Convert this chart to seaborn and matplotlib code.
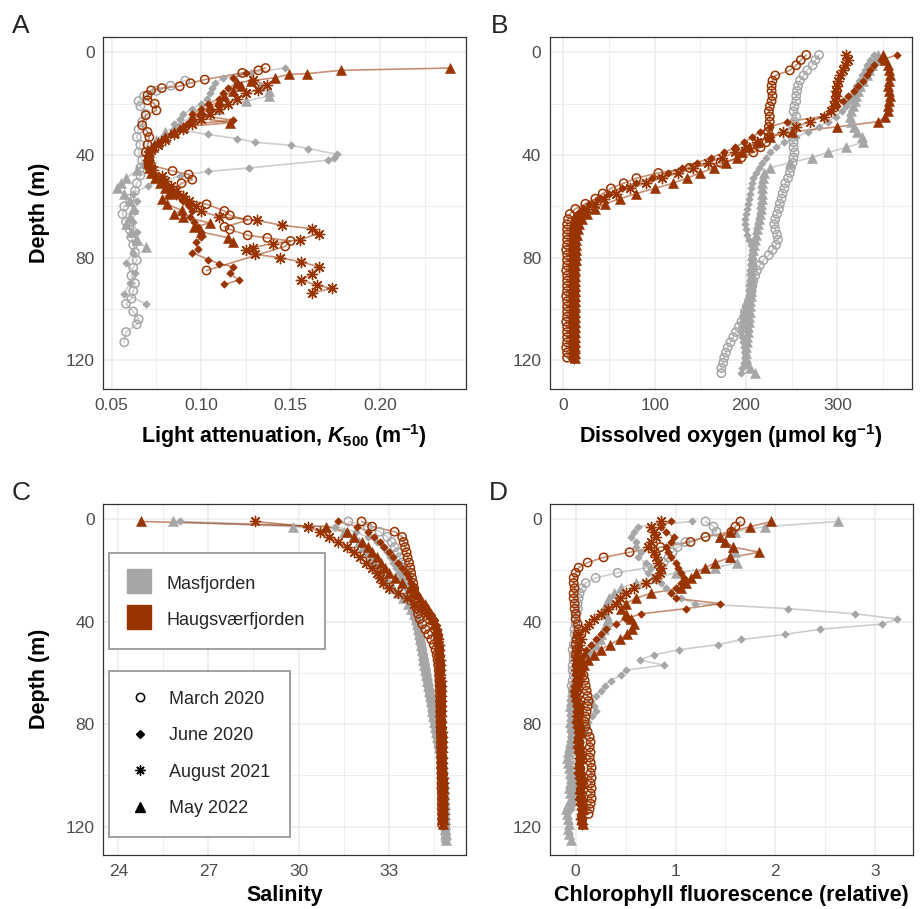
import matplotlib
matplotlib.use("Agg")
import matplotlib.pyplot as plt
from matplotlib.lines import Line2D
import pandas as pd
import seaborn as sns

# ---- depth bins of the CTD profiles (m)
dep_hau = [1, 3, 5, 7, 9, 11, 13, 15, 17, 19,
           21, 23, 25, 27, 29, 31, 33, 35, 37, 39,
           41, 43, 45, 47, 49, 51, 53, 55, 57, 59,
           61, 63, 65, 67, 69, 71, 73, 75, 77, 79,
           81, 83, 85, 87, 89, 91, 93, 95, 97, 99,
           101, 103, 105, 107, 109, 111, 113, 115, 117, 119]
dep_mas = dep_hau + [121, 123, 125]

# ---- A: light attenuation K500 (m-1)
a_mas_mar_d = [11, 13, 15, 17, 19, 21, 24, 27, 30, 33, 36, 39, 42, 45, 48, 51, 54, 57, 60, 63,
               66, 69, 72, 75, 78, 81, 84, 87, 90, 93, 96, 98, 101, 104, 106, 109, 113]
a_mas_mar = [0.091, 0.083, 0.075, 0.068, 0.065, 0.066, 0.069, 0.067, 0.065, 0.064, 0.066, 0.065,
             0.067, 0.066, 0.066, 0.064, 0.063, 0.060, 0.057, 0.056, 0.058, 0.060, 0.061, 0.062,
             0.063, 0.064, 0.062, 0.061, 0.063, 0.062, 0.061, 0.058, 0.062, 0.065, 0.064, 0.058, 0.057]
a_mas_jun_d = [6, 8, 10, 12, 14, 16, 18, 20, 22, 24, 26, 28, 30, 32, 33.6, 35, 36.2, 37.5, 39.7, 41,
               42, 45, 46.4, 48, 50, 52, 55, 58, 62, 66, 70, 74, 78, 82, 86, 90, 94, 98]
a_mas_jun = [0.147, 0.128, 0.112, 0.108, 0.106, 0.105, 0.103, 0.100, 0.095, 0.090, 0.088, 0.085,
             0.085, 0.104, 0.120, 0.130, 0.150, 0.160, 0.176, 0.174, 0.171, 0.127, 0.104, 0.088,
             0.080, 0.070, 0.062, 0.064, 0.063, 0.062, 0.064, 0.063, 0.062, 0.058, 0.063, 0.060,
             0.057, 0.069]
a_mas_may_d = [13, 15, 17, 19, 22, 25, 28, 31, 34, 37, 40, 43, 46, 49, 51, 53, 55, 58, 61, 64,
               67, 70, 73, 76]
a_mas_may = [0.133, 0.138, 0.138, 0.125, 0.110, 0.095, 0.088, 0.080, 0.075, 0.072, 0.070, 0.068,
             0.064, 0.058, 0.055, 0.053, 0.057, 0.060, 0.062, 0.060, 0.058, 0.061, 0.064, 0.069]
a_hau_mar_d = [6.1, 7, 8, 10.6, 12, 13.2, 13.9, 14.8, 16.7, 18.7, 20, 22.6, 24.5, 28.4, 31, 33, 36,
               39, 42, 44, 46.2, 47.6, 49.6, 51, 54, 57, 59.2, 61.8, 63.5, 65.4, 68, 69, 71.3, 72.3,
               73.5, 75.6, 85]
a_hau_mar = [0.136, 0.132, 0.123, 0.102, 0.094, 0.088, 0.078, 0.072, 0.070, 0.070, 0.074, 0.075,
             0.069, 0.067, 0.070, 0.071, 0.070, 0.069, 0.071, 0.072, 0.084, 0.093, 0.095, 0.089,
             0.085, 0.090, 0.103, 0.113, 0.116, 0.126, 0.113, 0.116, 0.126, 0.137, 0.150, 0.147,
             0.103]
a_hau_jun_d = [8, 10, 12, 14, 16, 18, 20, 22, 24, 26.5, 28, 30, 32, 34, 36, 38, 40, 42, 44, 46, 48,
               50, 52, 54, 56, 58, 60, 62, 64, 66, 68, 70, 72, 74, 76.5, 78, 80.8, 82.3, 83.6, 86,
               88.8, 90.4]
a_hau_jun = [0.125, 0.118, 0.120, 0.115, 0.112, 0.110, 0.104, 0.100, 0.095, 0.118, 0.092, 0.088,
             0.083, 0.078, 0.074, 0.071, 0.070, 0.070, 0.071, 0.072, 0.075, 0.078, 0.080, 0.083,
             0.086, 0.090, 0.093, 0.095, 0.094, 0.096, 0.098, 0.100, 0.100, 0.097, 0.098, 0.095,
             0.104, 0.110, 0.118, 0.116, 0.121, 0.113]
a_hau_aug_d = [10.9, 12.9, 14.5, 16, 18, 20, 22, 24, 26, 28, 30, 32, 34, 36, 38, 40, 42, 44, 46, 48,
               50, 52, 54, 56, 58, 60, 62, 64, 65.4, 67.4, 68.7, 70.6, 73, 74.5, 76.1, 77.1, 78.7,
               80, 81.7, 83.6, 86.2, 88.8, 90.8, 92, 93.8]
a_hau_aug = [0.129, 0.137, 0.132, 0.125, 0.120, 0.115, 0.110, 0.105, 0.100, 0.095, 0.090, 0.085,
             0.080, 0.076, 0.072, 0.070, 0.070, 0.071, 0.073, 0.078, 0.080, 0.083, 0.086, 0.090,
             0.093, 0.097, 0.100, 0.110, 0.131, 0.145, 0.162, 0.166, 0.155, 0.140, 0.129, 0.125,
             0.130, 0.144, 0.156, 0.166, 0.162, 0.156, 0.165, 0.173, 0.162]
a_hau_may_d = [6.1, 7, 8.3, 8.6, 9.9, 11, 12, 13, 15, 17, 19, 21, 23, 25, 27.4, 29, 31, 33, 35, 37,
               39, 41, 43, 45, 47, 49, 51, 53, 55, 57, 59.2, 61.5, 63, 64, 66.5, 68, 70, 72.2, 74]
a_hau_may = [0.239, 0.178, 0.159, 0.149, 0.141, 0.128, 0.120, 0.122, 0.118, 0.113, 0.110, 0.105,
             0.100, 0.095, 0.116, 0.090, 0.085, 0.080, 0.076, 0.073, 0.071, 0.070, 0.070, 0.071,
             0.072, 0.074, 0.077, 0.080, 0.082, 0.078, 0.081, 0.089, 0.085, 0.090, 0.105, 0.096,
             0.100, 0.115, 0.118]

# ---- B: dissolved oxygen (umol kg-1)
b_mas_mar = [280, 276, 273, 267, 263, 259, 257, 256, 255, 255,
             253, 252, 255, 253, 252, 250, 251, 252, 252, 253,
             252, 251, 249, 248, 246, 243, 242, 240, 239, 237,
             236, 234, 232, 231, 232, 234, 235, 233, 229, 225,
             219, 215, 212, 210, 208, 207, 206, 205, 203, 201,
             199, 198, 195, 192, 189, 186, 183, 180, 178, 176,
             175, 173, 173]
b_mas_jun = [340, 336, 333, 330, 327, 324, 321, 318, 316, 313,
             310, 305, 298, 290, 280, 268, 255, 242, 233, 226,
             222, 218, 214, 211, 208, 206, 205, 204, 203, 202,
             201, 200, 199, 199, 200, 201, 203, 205, 206, 207,
             206, 205, 204, 205, 206, 206, 205, 204, 202, 200,
             198, 197, 196, 196, 195, 196, 197, 198, 199, 199,
             198, 196, 195]
b_mas_may = [345, 342, 338, 335, 332, 328, 325, 323, 321, 319,
             317, 315, 314, 315, 318, 322, 327, 328, 310, 290,
             272, 248, 226, 220, 219, 218, 218, 217, 217, 216,
             216, 215, 214, 213, 212, 211, 210, 209, 208, 207,
             206, 206, 205, 205, 204, 204, 205, 205, 204, 204,
             204, 203, 203, 202, 202, 201, 201, 200, 200, 200,
             201, 204, 210]
b_hau_mar = [266, 260, 255, 248, 232, 229, 228, 228, 229, 228,
             226, 225, 226, 226, 225, 224, 225, 222, 216, 208,
             195, 172, 138, 104, 80, 66, 52, 43, 35, 24,
             13, 7, 5, 4, 4, 4, 4, 4, 3, 4,
             4, 4, 3, 4, 4, 4, 4, 3, 4, 4,
             4, 4, 3, 4, 4, 4, 4, 3, 4, 4]
b_hau_jun = [365, 348, 340, 336, 332, 328, 323, 318, 312, 306,
             300, 292, 284, 245, 226, 215, 207, 198, 188, 176,
             162, 146, 130, 114, 97, 80, 64, 50, 38, 28,
             20, 15, 12, 10, 9, 8, 8, 8, 8, 8,
             8, 8, 8, 8, 8, 8, 8, 8, 8, 8,
             8, 8, 8, 8, 8, 8, 8, 8, 8, 8]
b_hau_aug = [310, 312, 308, 306, 303, 301, 300, 299, 298, 297,
             296, 293, 285, 270, 255, 240, 225, 212, 200, 188,
             174, 158, 142, 126, 108, 90, 73, 57, 44, 34,
             26, 20, 16, 14, 13, 12, 11, 11, 11, 11,
             11, 11, 11, 11, 11, 11, 11, 11, 11, 11,
             11, 11, 11, 11, 11, 11, 11, 11, 11, 11]
b_hau_may = [350, 352, 355, 357, 358, 357, 356, 357, 358, 357,
             356, 355, 352, 345, 300, 250, 226, 213, 203, 196,
             190, 178, 165, 150, 135, 120, 100, 80, 62, 46,
             34, 26, 20, 17, 16, 15, 14, 14, 14, 14,
             14, 13, 13, 13, 13, 13, 13, 13, 13, 13,
             13, 13, 13, 13, 13, 13, 13, 13, 13, 13]

# ---- C: salinity
c_mas_mar = [31.66, 32.3, 32.7, 32.95, 33.1, 33.2, 33.3, 33.38, 33.45, 33.5,
             33.55, 33.6, 33.63, 33.66, 33.7, 33.73, 33.77, 33.8, 33.86, 33.92,
             33.96, 34.0, 34.03, 34.06, 34.09, 34.12, 34.15, 34.18, 34.21, 34.24,
             34.27, 34.3, 34.33, 34.36, 34.39, 34.42, 34.45, 34.48, 34.51, 34.54,
             34.57, 34.6, 34.63, 34.66, 34.69, 34.72, 34.75, 34.78, 34.8, 34.82,
             34.83, 34.84, 34.85, 34.86, 34.86, 34.87, 34.87, 34.88, 34.88, 34.89,
             34.89, 34.9, 34.9]
c_mas_jun = [26.07, 31.2, 31.9, 32.3, 32.6, 32.8, 32.95, 33.05, 33.15, 33.25,
             33.35, 33.42, 33.5, 33.57, 33.63, 33.68, 33.73, 33.78, 33.83, 33.88,
             33.93, 33.97, 34.01, 34.05, 34.08, 34.11, 34.14, 34.17, 34.2, 34.23,
             34.26, 34.29, 34.32, 34.35, 34.38, 34.41, 34.44, 34.47, 34.5, 34.53,
             34.56, 34.59, 34.62, 34.65, 34.68, 34.71, 34.74, 34.76, 34.78, 34.8,
             34.82, 34.83, 34.84, 34.85, 34.86, 34.87, 34.88, 34.88, 34.89, 34.89,
             34.9, 34.9, 34.91]
c_mas_may = [25.82, 29.82, 31.5, 31.8, 32.0, 32.15, 32.3, 32.42, 32.52, 32.62,
             32.72, 32.85, 33.0, 33.15, 33.3, 33.48, 33.65, 33.76, 33.84, 33.9,
             33.94, 33.98, 34.01, 34.04, 34.07, 34.1, 34.13, 34.16, 34.19, 34.22,
             34.25, 34.28, 34.31, 34.34, 34.37, 34.4, 34.43, 34.46, 34.49, 34.52,
             34.55, 34.58, 34.61, 34.64, 34.67, 34.7, 34.73, 34.76, 34.78, 34.8,
             34.82, 34.83, 34.84, 34.85, 34.86, 34.87, 34.87, 34.88, 34.88, 34.89,
             34.89, 34.9, 34.9]
c_hau_mar = [32.1, 32.45, 33.2, 33.45, 33.5, 33.55, 33.6, 33.63, 33.68, 33.72,
             33.75, 33.78, 33.82, 33.85, 33.87, 33.88, 33.9, 33.94, 33.98, 34.04,
             34.12, 34.22, 34.32, 34.42, 34.5, 34.56, 34.6, 34.63, 34.65, 34.67,
             34.68, 34.69, 34.7, 34.7, 34.71, 34.71, 34.72, 34.72, 34.72, 34.73,
             34.73, 34.73, 34.74, 34.74, 34.74, 34.75, 34.75, 34.75, 34.75, 34.76,
             34.76, 34.76, 34.76, 34.77, 34.77, 34.77, 34.77, 34.78, 34.78, 34.78]
c_hau_jun = [31.3, 31.95, 32.3, 32.5, 32.7, 32.85, 33.0, 33.15, 33.3, 33.45,
             33.58, 33.68, 33.76, 33.84, 33.92, 34.02, 34.14, 34.28, 34.4, 34.5,
             34.56, 34.6, 34.63, 34.65, 34.66, 34.67, 34.68, 34.69, 34.7, 34.7,
             34.71, 34.71, 34.72, 34.72, 34.73, 34.73, 34.73, 34.74, 34.74, 34.74,
             34.75, 34.75, 34.75, 34.76, 34.76, 34.76, 34.77, 34.77, 34.77, 34.78,
             34.78, 34.78, 34.79, 34.79, 34.79, 34.8, 34.8, 34.8, 34.8, 34.81]
c_hau_aug = [28.55, 30.3, 30.7, 31.0, 31.3, 31.6, 31.85, 32.05, 32.25, 32.45,
             32.6, 32.7, 32.8, 33.0, 33.3, 33.6, 33.85, 34.05, 34.25, 34.4,
             34.5, 34.57, 34.62, 34.65, 34.67, 34.68, 34.69, 34.7, 34.71, 34.72,
             34.72, 34.73, 34.73, 34.74, 34.74, 34.75, 34.75, 34.75, 34.76, 34.76,
             34.76, 34.77, 34.77, 34.77, 34.78, 34.78, 34.78, 34.79, 34.79, 34.79,
             34.8, 34.8, 34.8, 34.8, 34.81, 34.81, 34.81, 34.81, 34.82, 34.82]
c_hau_may = [24.77, 30.93, 31.6, 31.85, 32.1, 32.3, 32.45, 32.6, 32.75, 32.88,
             33.02, 33.2, 33.45, 33.7, 33.9, 34.05, 34.2, 34.3, 34.4, 34.48,
             34.55, 34.6, 34.63, 34.65, 34.67, 34.68, 34.69, 34.7, 34.7, 34.71,
             34.72, 34.72, 34.73, 34.73, 34.74, 34.74, 34.75, 34.75, 34.75, 34.76,
             34.76, 34.77, 34.77, 34.77, 34.78, 34.78, 34.78, 34.79, 34.79, 34.79,
             34.8, 34.8, 34.8, 34.81, 34.81, 34.81, 34.82, 34.82, 34.82, 34.82]

# ---- D: chlorophyll fluorescence (relative)
d_mas_mar = [1.3, 1.38, 1.41, 1.3, 1.1, 1.02, 0.97, 0.93, 0.88, 0.72,
             0.42, 0.2, 0.1, 0.06, 0.04, 0.03, 0.02, 0.02, 0.01, 0.0,
             0.0, -0.01, -0.01, 0.0, -0.02, -0.03, -0.02, -0.02, -0.03, -0.03,
             -0.02, -0.03, -0.04, -0.03, -0.02, -0.03, -0.04, -0.03, -0.02, -0.03,
             -0.04, -0.03, -0.03, -0.02, -0.03, -0.04, -0.03, -0.02, -0.03, -0.03,
             -0.04]
d_mas_jun = [1.16, 0.62, 0.58, 0.55, 0.6, 0.6, 0.65, 0.62, 0.7, 0.75,
             0.72, 0.78, 0.85, 0.9, 0.95, 1.05, 1.2, 2.13, 2.8, 3.22,
             3.07, 2.45, 2.1, 1.66, 1.43, 1.03, 0.78, 0.64, 0.88, 0.5,
             0.45, 0.35, 0.29, 0.25, 0.2, 0.15, 0.18, 0.2, 0.16, 0.12,
             0.1, 0.08, 0.06, 0.05, 0.04, 0.04, 0.03, 0.02, 0.02, 0.01,
             0.0, 0.0, -0.01, -0.02, -0.03, -0.03, -0.05]
d_mas_may = [2.63, 1.9, 1.6, 1.45, 1.5, 1.58, 1.6, 1.55, 1.62, 1.4,
             1.0, 0.8, 0.6, 0.45, 0.38, 0.33, 0.3, 0.28, 0.3, 0.32,
             0.3, 0.28, 0.25, 0.24, 0.2, 0.15, 0.12, 0.08, 0.05, 0.02,
             0.0, -0.02, -0.03, -0.04, -0.05, -0.05, -0.06, -0.05, -0.05, -0.06,
             -0.05, -0.04, -0.05, -0.06, -0.07, -0.08, -0.09, -0.08, -0.07, -0.06,
             -0.05, -0.06, -0.07, -0.06, -0.05, -0.08, -0.1, -0.09, -0.08, -0.07,
             -0.08, -0.07, -0.05]
d_hau_mar = [1.65, 1.6, 1.56, 1.3, 1.15, 0.85, 0.54, 0.28, 0.12, 0.03,
             0.0, -0.02, -0.02, -0.01, -0.02, -0.02, -0.01, -0.01, 0.0, 0.0,
             0.02, 0.03, 0.02, 0.01, 0.0, 0.01, 0.0, 0.02, 0.03, 0.05,
             0.08, 0.09, 0.1, 0.11, 0.12, 0.13, 0.12, 0.11, 0.1, 0.09,
             0.1, 0.12, 0.14, 0.15, 0.14, 0.15, 0.14, 0.15, 0.16, 0.15,
             0.16, 0.15, 0.16, 0.15, 0.16, 0.15, 0.14, 0.13]
d_hau_jun = [0.95, 0.85, 0.9, 0.98, 0.95, 0.9, 0.92, 0.95, 1.0, 1.02,
             1.05, 1.08, 1.05, 1.0, 0.95, 1.0, 1.45, 1.1, 0.65, 0.5,
             0.4, 0.3, 0.25, 0.2, 0.15, 0.1, 0.08, 0.05, 0.03, 0.02,
             0.0, -0.01, -0.02, -0.03, -0.02, -0.01, 0.0, 0.01, 0.0, -0.01,
             0.0, 0.01, 0.02, 0.01, 0.0, 0.01, 0.02, 0.03, 0.02, 0.01,
             0.02, 0.03, 0.04, 0.03, 0.02, 0.03, 0.04, 0.05, 0.04, 0.05]
d_hau_aug = [0.85, 0.75, 0.78, 0.8, 0.75, 0.72, 0.78, 0.8, 0.82, 0.85,
             0.84, 0.8, 0.7, 0.58, 0.5, 0.44, 0.4, 0.32, 0.25, 0.18,
             0.13, 0.09, 0.02, 0.05, 0.03, 0.02, 0.01, 0.0, 0.01, 0.0,
             0.01, 0.02, 0.01, 0.0, 0.01, 0.02, 0.03, 0.02, 0.01, 0.02,
             0.03, 0.04, 0.03, 0.02, 0.03, 0.04, 0.05, 0.04, 0.03, 0.04,
             0.05, 0.06, 0.05, 0.04, 0.05, 0.06, 0.07, 0.06, 0.05, 0.06]
d_hau_may = [1.96, 1.75, 1.55, 1.45, 1.5, 1.58, 1.84, 1.55, 1.4, 1.3,
             1.21, 1.15, 1.1, 1.05, 0.75, 0.6, 0.5, 0.45, 0.5, 0.55,
             0.58, 0.56, 0.51, 0.44, 0.34, 0.25, 0.18, 0.12, 0.08, 0.05,
             0.03, 0.01, 0.0, -0.01, 0.0, 0.01, 0.02, 0.03, 0.02, 0.03,
             0.04, 0.03, 0.02, 0.03, 0.04, 0.05, 0.04, 0.03, 0.04, 0.05,
             0.06, 0.05, 0.04, 0.05, 0.06, 0.07, 0.06, 0.05, 0.06, 0.07]

fjords = ["Masfjorden", "Haugsværfjorden"]
months = ["March 2020", "June 2020", "August 2021", "May 2022"]
fjord_col = {"Masfjorden": "#A6A6A6", "Haugsværfjorden": "#993300"}

M, H = fjords
series = [
    ("A", M, months[0], a_mas_mar_d, a_mas_mar), ("A", M, months[1], a_mas_jun_d, a_mas_jun),
    ("A", M, months[3], a_mas_may_d, a_mas_may),
    ("A", H, months[0], a_hau_mar_d, a_hau_mar), ("A", H, months[1], a_hau_jun_d, a_hau_jun),
    ("A", H, months[2], a_hau_aug_d, a_hau_aug), ("A", H, months[3], a_hau_may_d, a_hau_may),
    ("B", M, months[0], dep_mas, b_mas_mar), ("B", M, months[1], dep_mas, b_mas_jun),
    ("B", M, months[3], dep_mas, b_mas_may),
    ("B", H, months[0], dep_hau, b_hau_mar), ("B", H, months[1], dep_hau, b_hau_jun),
    ("B", H, months[2], dep_hau, b_hau_aug), ("B", H, months[3], dep_hau, b_hau_may),
    ("C", M, months[0], dep_mas, c_mas_mar), ("C", M, months[1], dep_mas, c_mas_jun),
    ("C", M, months[3], dep_mas, c_mas_may),
    ("C", H, months[0], dep_hau, c_hau_mar), ("C", H, months[1], dep_hau, c_hau_jun),
    ("C", H, months[2], dep_hau, c_hau_aug), ("C", H, months[3], dep_hau, c_hau_may),
    ("D", M, months[0], dep_mas, d_mas_mar), ("D", M, months[1], dep_mas, d_mas_jun),
    ("D", M, months[3], dep_mas, d_mas_may),
    ("D", H, months[0], dep_hau, d_hau_mar), ("D", H, months[1], dep_hau, d_hau_jun),
    ("D", H, months[2], dep_hau, d_hau_aug), ("D", H, months[3], dep_hau, d_hau_may),
]
rows = []
for panel, fj, mo, dep, val in series:
    for d, v in zip(dep, val):
        rows.append((panel, fj, mo, d, v))
df = pd.DataFrame(rows, columns=["panel", "fjord", "month", "depth", "value"])

sns.set_style("white")
plt.rcParams["font.family"] = ["Liberation Sans", "DejaVu Sans"]
plt.rcParams["mathtext.fontset"] = "custom"
plt.rcParams["mathtext.rm"] = "Liberation Sans:bold"
plt.rcParams["mathtext.bf"] = "Liberation Sans:bold"
plt.rcParams["mathtext.it"] = "Liberation Sans:italic:bold"

# marker look for each month (ggplot shapes 1, 18, 8, 17)
mk = {
    "March 2020": dict(marker="o", s=36, linewidths=1.1),
    "June 2020": dict(marker="D", s=15, linewidths=0.4),
    "August 2021": dict(marker=(8, 2, 0), s=55, linewidths=1.0),
    "May 2022": dict(marker="^", s=52, linewidths=0.4),
}

fig = plt.figure(figsize=(9.21, 9.09), dpi=100)
W, Hh = 921, 909
pos = {"A": (103, 37), "B": (549.5, 37), "C": (103, 503.5), "D": (550, 503.5)}
axes = {k: fig.add_axes([x / W, 1 - (y + 351.5) / Hh, 362.5 / W, 351.5 / Hh])
        for k, (x, y) in pos.items()}

for key, ax in axes.items():
    sub = df[df.panel == key]
    # paths first, like geom_path under geom_point
    for fj in fjords:
        for mo in months:
            s = sub[(sub.fjord == fj) & (sub.month == mo)]
            if s.empty:
                continue
            sns.lineplot(data=s, x="value", y="depth", orient="y", estimator=None,
                         color=fjord_col[fj], alpha=0.55, lw=1.2, ax=ax, legend=False, zorder=2)
    for z, fj in enumerate(fjords):
        for mo in months:
            s = sub[(sub.fjord == fj) & (sub.month == mo)]
            if s.empty:
                continue
            kw = dict(mk[mo])
            c = fjord_col[fj]
            if mo == "March 2020":
                kw["facecolors"] = "none"
            sns.scatterplot(data=s, x="value", y="depth", color=c, edgecolor=c, ax=ax,
                            legend=False, zorder=3 + z, **kw)

limits = {
    "A": ((0.0451, 0.2478), [0.05, 0.10, 0.15, 0.20], ["0.05", "0.10", "0.15", "0.20"],
          [0.075, 0.125, 0.175, 0.225]),
    "B": ((-15.3, 381.8), [0, 100, 200, 300], ["0", "100", "200", "300"], [50, 150, 250, 350]),
    "C": ((23.49, 35.56), [24, 27, 30, 33], ["24", "27", "30", "33"], [25.5, 28.5, 31.5, 34.5]),
    "D": ((-0.257, 3.373), [0, 1, 2, 3], ["0", "1", "2", "3"], [0.5, 1.5, 2.5]),
}
xlabels = {
    "A": r"Light attenuation, $K_{500}$ (m$^{-1}$)",
    "B": r"Dissolved oxygen (µmol kg$^{-1}$)",
    "C": "Salinity",
    "D": "Chlorophyll fluorescence (relative)",
}
for key, ax in axes.items():
    xlim, xt, xtl, xminor = limits[key]
    ax.set_xlim(*xlim)
    ax.set_ylim(131, -6)
    ax.set_xticks(xt, xtl)
    ax.set_xticks(xminor, minor=True)
    ax.set_yticks([0, 40, 80, 120], ["0", "40", "80", "120"])
    ax.set_yticks([20, 60, 100], minor=True)
    ax.grid(which="major", color="#EBEBEB", lw=1.1)
    ax.grid(which="minor", color="#EBEBEB", lw=0.6)
    ax.set_axisbelow(True)
    ax.tick_params(which="minor", length=0)
    ax.tick_params(which="major", length=3.5, width=0.9, color="#333333",
                   labelcolor="#4D4D4D", labelsize=12.5)
    ax.tick_params(axis="x", pad=3)
    ax.tick_params(axis="y", pad=2.5)
    for sp in ax.spines.values():
        sp.set_color("#333333")
        sp.set_linewidth(0.9)
    ax.set_xlabel(xlabels[key], fontsize=15.5, fontweight="bold", color="black")
    ax.xaxis.set_label_coords(0.5, -0.095 if key in "AB" else -0.086)
    if key in "AC":
        ax.set_ylabel("Depth (m)", fontsize=15.5, fontweight="bold", color="black")
        ax.yaxis.set_label_coords(-0.146, 0.5)
    else:
        ax.set_ylabel("")

for key, (x, y) in {"A": (12, 33), "B": (491, 33), "C": (12, 499.5), "D": (489, 499.5)}.items():
    fig.text(x / W, 1 - y / Hh, key, fontsize=19, ha="left", va="baseline")

# legends inside panel C
axC = axes["C"]
fj_handles = [Line2D([0], [0], marker="s", ls="none", markersize=17,
                     markerfacecolor=fjord_col[f], markeredgecolor=fjord_col[f]) for f in fjords]
leg1 = axC.legend(fj_handles, fjords, loc="upper left", bbox_to_anchor=(0.017, 0.859),
                  borderaxespad=0, frameon=True, fancybox=False, framealpha=1,
                  edgecolor="#A0A0A0", fontsize=13, borderpad=1.1, labelspacing=0.92,
                  handlelength=1.1, handleheight=1.3, handletextpad=1.0)
leg1.get_frame().set_linewidth(1.4)
axC.add_artist(leg1)

mo_handles = [
    Line2D([0], [0], marker="o", ls="none", markersize=6, markerfacecolor="none",
           markeredgecolor="black", markeredgewidth=1.1),
    Line2D([0], [0], marker="D", ls="none", markersize=3.6, color="black"),
    Line2D([0], [0], marker=(8, 2, 0), ls="none", markersize=7.2, color="black",
           markeredgewidth=1.0),
    Line2D([0], [0], marker="^", ls="none", markersize=7, color="black"),
]
leg2 = axC.legend(mo_handles, months, loc="upper left", bbox_to_anchor=(0.017, 0.524),
                  borderaxespad=0, frameon=True, fancybox=False, framealpha=1,
                  edgecolor="#A0A0A0", fontsize=13, borderpad=1.1, labelspacing=1.08,
                  handlelength=1.2, handletextpad=1.0)
leg2.get_frame().set_linewidth(1.4)

fig.savefig("out.png", dpi=100)
